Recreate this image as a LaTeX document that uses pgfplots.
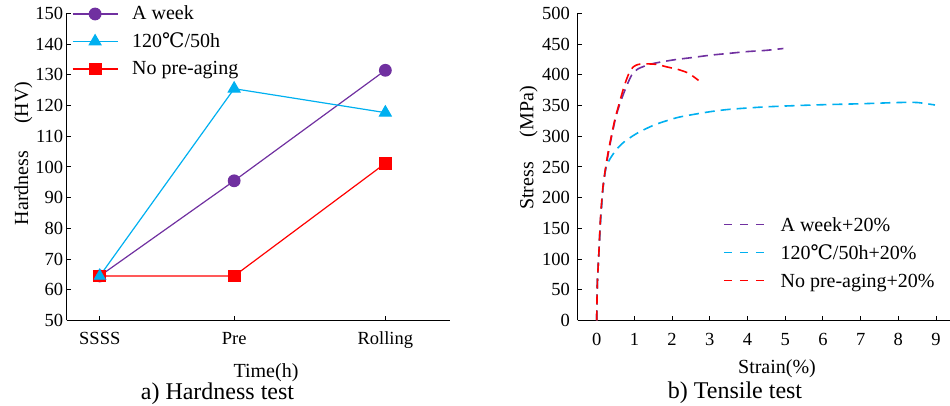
\documentclass[border=0pt]{standalone}
\usepackage{fontspec}
\setmainfont{Liberation Serif}
\newfontfamily\degfont{DejaVu Serif}
\usepackage{pgfplots}
\pgfplotsset{compat=1.18}
\definecolor{cpurple}{HTML}{7030A0}
\definecolor{ccyan}{HTML}{00B0F0}
\definecolor{cred}{HTML}{FF0000}
\newcommand{\tk}{\fontsize{18.5}{22}\selectfont}
\newcommand{\lb}{\fontsize{20}{24}\selectfont}
\newcommand{\cp}{\fontsize{24}{28}\selectfont}
\newcommand{\degC}{{\degfont ℃}}
\pgfplotsset{common/.style={
  scale only axis, axis lines=left, axis line style={-, line width=1.1pt},
  tick align=inside, major tick length=4pt, tick style={black, line width=1pt},
  /pgf/number format/assume math mode=true,
}}
\begin{document}
\begin{tikzpicture}
\useasboundingbox (0pt,0pt) rectangle (950pt,406pt);
% ---------------- left: hardness ----------------
\begin{axis}[common,
  at={(66.7pt,85.5pt)}, anchor=south west,
  width=383.3pt, height=307pt,
  xmin=-0.246, xmax=2.606, ymin=50, ymax=150,
  ytick={50,60,...,150},
  xtick={0,1,2.125}, xticklabels={SSSS,Pre,Rolling},
  yticklabel style={font=\tk, inner sep=0pt, xshift=-3.4pt},
  xticklabel style={font=\tk, inner sep=0pt, yshift=-11.2pt},
  legend style={at={(0,1)}, anchor=north west, xshift=5.3pt, yshift=7.5pt,
    draw=none, fill=none, inner sep=0pt, outer sep=0pt,
    row sep=9pt, column sep=14pt, font=\lb,
    nodes={inner sep=0pt, anchor=base west, text height=14pt, text depth=4.5pt}},
  legend image code/.code={\draw[mark repeat=2, mark phase=2, #1] plot coordinates {(0pt,6pt) (22.5pt,6pt) (45pt,6pt)};},
]
\addplot[cpurple, line width=1.2pt, mark=*, mark size=5.8pt, mark options={solid}]
  coordinates {(0,64.5) (1,95.5) (2.125,131.5)};
\addlegendentry{A week}
\addplot[ccyan, line width=1.2pt, mark=triangle*, mark size=6.7pt, mark options={solid}]
  coordinates {(0,64.5) (1,125.5) (2.125,117.7)};
\addlegendentry{120\degC/50h}
\addplot[cred, line width=1.2pt, mark=square*, mark size=5.8pt, mark options={solid}]
  coordinates {(0,64.5) (1,64.5) (2.125,101.2)};
\addlegendentry{No pre-aging}
\addplot[ccyan, only marks, mark=triangle*, mark size=6.7pt, forget plot]
  coordinates {(0,64.5)};
\end{axis}
% ---------------- right: tensile ----------------
\begin{axis}[common,
  at={(577.7pt,85.5pt)}, anchor=south west,
  width=372.3pt, height=307pt,
  xmin=-0.504, xmax=9.37, ymin=0, ymax=500,
  xtick={0,1,...,9}, ytick={0,50,...,500},
  yticklabel style={font=\tk, inner sep=0pt, xshift=-7.7pt},
  xticklabel style={font=\tk, inner sep=0pt, yshift=-12.8pt},
  legend style={at={(0,1)}, anchor=north west, xshift=145.3pt, yshift=-204.2pt,
    draw=none, fill=none, inner sep=0pt, outer sep=0pt,
    row sep=9.5pt, column sep=16pt, font=\lb,
    nodes={inner sep=0pt, anchor=base west, text height=14pt, text depth=4.5pt}},
  legend image code/.code={\draw[#1, dash pattern=on 8pt off 8pt] (0pt,7pt) -- (40pt,7pt);},
]
\addplot[cpurple, line width=1.6pt, dash pattern=on 10pt off 6pt, smooth, tension=0.4]
  coordinates {(0,0) (0.016,59) (0.06,113) (0.105,166) (0.175,220) (0.31,273) (0.49,327)
   (0.62,354) (0.78,380) (0.93,400) (1.1,410) (1.4,417) (1.7,421) (2.1,425) (2.5,428)
   (3.0,432) (3.5,435) (4.0,438) (4.5,440) (4.95,443)};
\addlegendentry{A week+20\%}
\addplot[ccyan, line width=1.6pt, dash pattern=on 10pt off 6pt, smooth, tension=0.4]
  coordinates {(0,0) (0.016,59) (0.06,113) (0.105,166) (0.175,220) (0.24,248) (0.35,263)
   (0.53,279) (0.75,292) (1.1,306) (1.55,319) (2.17,331) (3.0,340) (3.54,344) (4.5,348)
   (5.75,351) (7.0,353) (8.0,355) (8.5,355) (8.97,351)};
\addlegendentry{120\degC/50h+20\%}
\addplot[cred, line width=1.6pt, dash pattern=on 10pt off 6pt, smooth, tension=0.4]
  coordinates {(0,0) (0.016,59) (0.06,113) (0.1,166) (0.17,220) (0.3,273) (0.48,327)
   (0.6,354) (0.72,380) (0.85,402) (0.97,413) (1.1,417) (1.3,418) (1.6,417) (1.86,413)
   (2.15,409) (2.39,404) (2.55,398) (2.7,391)};
\addlegendentry{No pre-aging+20\%}
\end{axis}
% ---------------- labels ----------------
\node[rotate=90, anchor=base, font=\lb, inner sep=0pt] at (28pt,252.5pt) {Hardness\hspace{27pt}(HV)};
\node[rotate=90, anchor=base, font=\lb, inner sep=0pt] at (533.3pt,258pt) {Stress\hspace{25pt}(MPa)};
\node[anchor=base, font=\lb, inner sep=0pt] at (266pt,28.5pt) {Time(h)};
\node[anchor=base, font=\cp, inner sep=0pt] at (217.5pt,6pt) {a) Hardness test};
\node[anchor=base, font=\lb, inner sep=0pt] at (777pt,32pt) {Strain(\%)};
\node[anchor=base, font=\cp, inner sep=0pt] at (735pt,7pt) {b) Tensile test};
\end{tikzpicture}
\end{document}
